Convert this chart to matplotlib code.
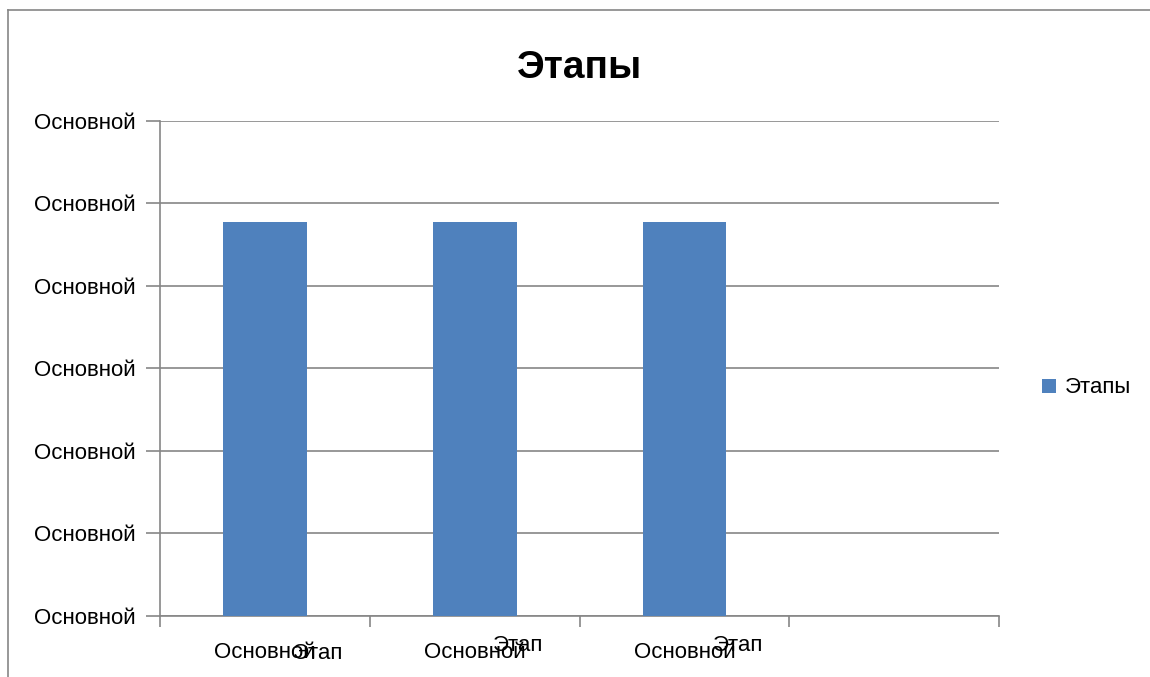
import numpy as np
import matplotlib.pyplot as plt
from matplotlib.lines import Line2D
import matplotlib.transforms as mtransforms

plt.rcParams['font.family'] = ['Liberation Sans', 'DejaVu Sans']

# данные
categories = ["Основной", "Основной", "Основной", ""]
sub_labels = ["Этап", "Этап", "Этап", ""]
values = [4.78, 4.78, 4.78, np.nan]
y_ticks = [0, 1, 2, 3, 4, 5, 6]
y_labels = ["Основной"] * 7
series_name = "Этапы"
title = "Этапы"

bar_color = "#4F81BD"
grid_color = "#868686"
fs = 16

fig = plt.figure(figsize=(11.5, 6.77), dpi=100)
ax = fig.add_axes([0.1395, 0.0901, 0.8687 - 0.1395, 0.8213 - 0.0901])

x = np.arange(len(categories))
ax.bar(x, values, width=0.4, color=bar_color, label=series_name, zorder=3)

ax.set_xlim(-0.5, len(categories) - 0.5)
ax.set_ylim(0, 6)
ax.set_yticks(y_ticks)
ax.set_yticklabels(y_labels, fontsize=fs)
ax.yaxis.grid(True, color=grid_color, linewidth=1.2, zorder=0)

# деления между категориями
ax.set_xticks(np.arange(-0.5, len(categories), 1.0))
ax.set_xticklabels([])
ax.tick_params(axis='x', length=8, color=grid_color, width=1.2)
ax.tick_params(axis='y', length=10, color=grid_color, width=1.2, pad=8)

for s in ['top', 'right']:
    ax.spines[s].set_visible(False)
for s in ['left', 'bottom']:
    ax.spines[s].set_color(grid_color)
    ax.spines[s].set_linewidth(1.2)

# подписи категорий (две строки, наезжающие друг на друга)
trans = mtransforms.blended_transform_factory(ax.transData, ax.transAxes)
sub_dx = [0.25, 0.205, 0.255]
sub_dy = [-0.075, -0.06, -0.06]
for i, (c, s) in enumerate(zip(categories, sub_labels)):
    if not c:
        continue
    ax.text(x[i], -0.073, c, transform=trans, ha='center', va='center', fontsize=fs)
    ax.text(x[i] + sub_dx[i], sub_dy[i], s, transform=trans, ha='center', va='center', fontsize=fs)

ax.set_title(title, fontsize=28, fontweight='bold', pad=31)

leg = fig.legend(loc='center left', bbox_to_anchor=(0.889, 0.427), frameon=False,
                 fontsize=fs, handlelength=0.6, handleheight=0.6, handletextpad=0.4)

# рамка области диаграммы
fig.add_artist(Line2D([0.007, 0.007], [0, 0.985], color=grid_color, linewidth=1.2))
fig.add_artist(Line2D([0.007, 1.0], [0.985, 0.985], color=grid_color, linewidth=1.2))

fig.savefig("out.png", dpi=100)
